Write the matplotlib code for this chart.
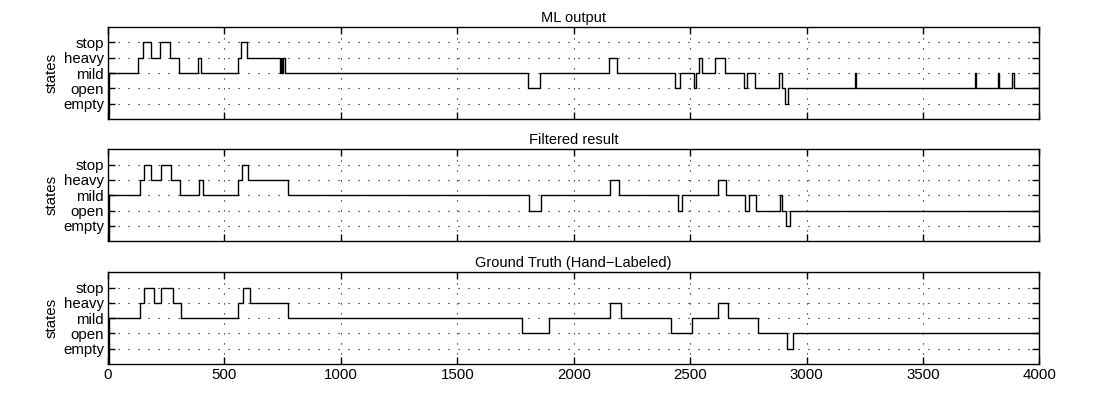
import numpy as np
import matplotlib.pyplot as plt

plt.rcParams['font.family'] = ['Liberation Sans', 'DejaVu Sans']
plt.rcParams['font.size'] = 10

# ------------------------------------------------------------------
# data: frame index where the state changes, and the state entered
# states: 1=empty 2=open 3=mild 4=heavy 5=stop
# ------------------------------------------------------------------
state_names = ['empty', 'open', 'mild', 'heavy', 'stop']
state_levels = [1, 2, 3, 4, 5]
n_frames = 4000

ml_t = [0, 2, 130, 148, 186, 222, 265, 305, 387, 398, 556, 571, 596, 738,
        741, 748, 751, 760, 1803, 1854, 2152, 2186, 2436, 2456, 2518, 2524,
        2539, 2549, 2608, 2650, 2731, 2743, 2778, 2883, 2893, 2908, 2922,
        3207, 3212, 3722, 3730, 3823, 3828, 3883, 3889]
ml_s = [0, 3, 4, 5, 4, 5, 4, 3, 4, 3, 4, 5, 4, 3,
        4, 3, 4, 3, 2, 3, 4, 3, 2, 3, 2, 3,
        4, 3, 4, 3, 2, 3, 2, 3, 2, 1, 2,
        3, 2, 3, 2, 3, 2, 3, 2]

filt_t = [0, 2, 136, 155, 184, 227, 270, 308, 391, 406, 556, 575, 601, 771,
          1808, 1861, 2158, 2195, 2446, 2463, 2618, 2654, 2737, 2754, 2783,
          2886, 2896, 2912, 2928]
filt_s = [0, 3, 4, 5, 4, 5, 4, 3, 4, 3, 4, 5, 4, 3,
          2, 3, 4, 3, 2, 3, 4, 3, 2, 3, 2,
          3, 2, 1, 2]

truth_t = [0, 2, 136, 155, 198, 229, 280, 315, 560, 578, 609, 775, 1778,
           1892, 2158, 2202, 2420, 2506, 2621, 2661, 2793, 2915, 2940]
truth_s = [0, 3, 4, 5, 4, 5, 4, 3, 4, 5, 4, 3, 2,
           3, 4, 3, 2, 3, 4, 3, 2, 1, 2]

panels = [
    ('ML output', ml_t, ml_s),
    ('Filtered result', filt_t, filt_s),
    ('Ground Truth (Hand\u2212Labeled)', truth_t, truth_s),
]

fig = plt.figure(figsize=(11.14, 3.94), dpi=100)

left, width = 0.097, 0.836
bottoms = [0.698, 0.388, 0.076]
height = 0.233
fs = 10.8

for i, (title, t, s) in enumerate(panels):
    ax = fig.add_axes([left, bottoms[i], width, height])
    tt = list(t) + [n_frames]
    ss = list(s) + [s[-1]]
    ax.step(tt, ss, where='post', color='black', linewidth=1.0)

    ax.set_xlim(0, n_frames)
    ax.set_ylim(0, 6)
    ax.set_xticks(np.arange(0, n_frames + 1, 500))
    ax.set_yticks(state_levels)
    ax.set_yticklabels(state_names, fontsize=fs)
    ax.grid(True, color='black', linestyle=(0, (1, 8)), linewidth=0.8)
    ax.tick_params(direction='in', top=True, right=True, length=5,
                   width=1.0, labelsize=fs, pad=3)
    for sp in ax.spines.values():
        sp.set_linewidth(1.0)
    ax.set_ylabel('states', fontsize=fs, labelpad=3)
    ax.set_title(title, fontsize=10.5, pad=4)
    if i < 2:
        ax.set_xticklabels([])

fig.savefig('out.png', dpi=100)
